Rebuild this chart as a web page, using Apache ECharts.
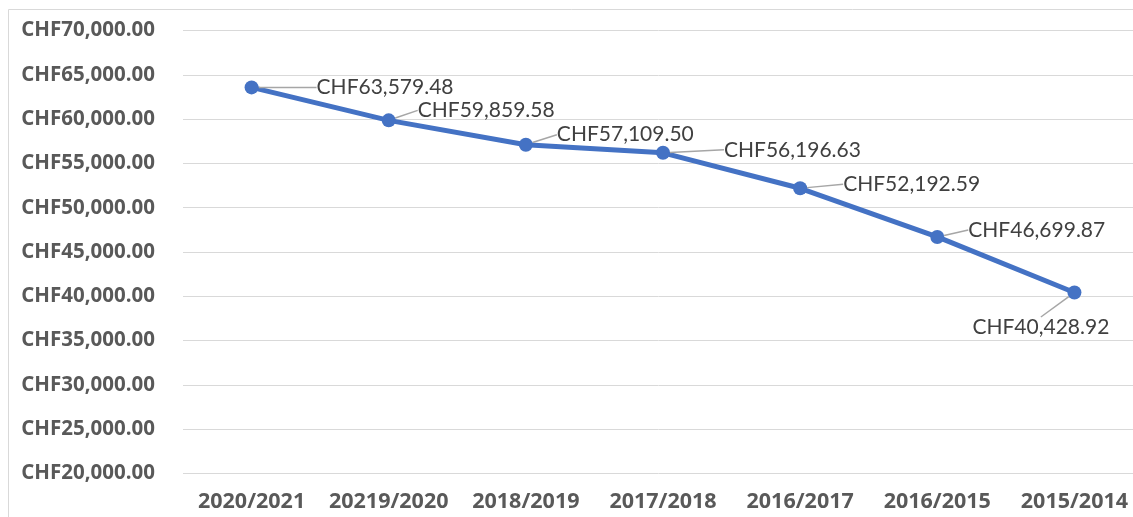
<!DOCTYPE html>
<html><head><meta charset="utf-8">
<script src="https://cdn.jsdelivr.net/npm/echarts@6/dist/echarts.min.js"></script>
<style>html,body{margin:0;padding:0;background:#fff}#c{width:1133px;height:517px}</style>
</head><body><div id="c"></div>
<script>
const categories = ['2020/2021','20219/2020','2018/2019','2017/2018','2016/2017','2016/2015','2015/2014'];
const values = [63579.48, 59859.58, 57109.50, 56196.63, 52192.59, 46699.87, 40428.92];
const labelOffsets = [[58,0],[22,-10],[24,-10],[54,-3],[36,-4],[24,-7],[-109,35]];

const fmt = v => 'CHF' + v.toLocaleString('en-US',{minimumFractionDigits:2,maximumFractionDigits:2});
const chart = echarts.init(document.getElementById('c'));
chart.setOption({
  animation:false,
  graphic:[{type:'rect',shape:{x:8.5,y:9.5,width:1200,height:600},style:{fill:'none',stroke:'#d9d9d9',lineWidth:1},silent:true}],
  grid:{left:183,width:960,top:30.5,bottom:43.5,outerBoundsMode:'none',containLabel:false},
  xAxis:{type:'category',data:categories,boundaryGap:true,
    axisLine:{show:false},axisTick:{show:false},
    axisLabel:{interval:0,fontFamily:'Open Sans',fontWeight:'bold',fontSize:21.5,color:'#595959',margin:17}},
  yAxis:{type:'value',min:20000,max:70000,interval:5000,
    axisLabel:{formatter:fmt,fontFamily:'Open Sans',fontWeight:'bold',fontSize:20.5,color:'#595959',margin:28},
    splitLine:{lineStyle:{color:'#d9d9d9',width:1}},axisLine:{show:false},axisTick:{show:false}},
  series:[{type:'line',data:values,symbol:'circle',symbolSize:14,
    itemStyle:{color:'#4472C4'},lineStyle:{color:'#4472C4',width:5},
    label:{show:true,position:'right',distance:0,formatter:p=>fmt(p.value),
      fontFamily:'Lato',fontSize:21,color:'#404040'},
    labelLine:{show:true,lineStyle:{color:'#a6a6a6',width:1.5}},
    labelLayout:p=>({dx:labelOffsets[p.dataIndex][0],dy:labelOffsets[p.dataIndex][1]})
  }]
});
</script></body></html>
